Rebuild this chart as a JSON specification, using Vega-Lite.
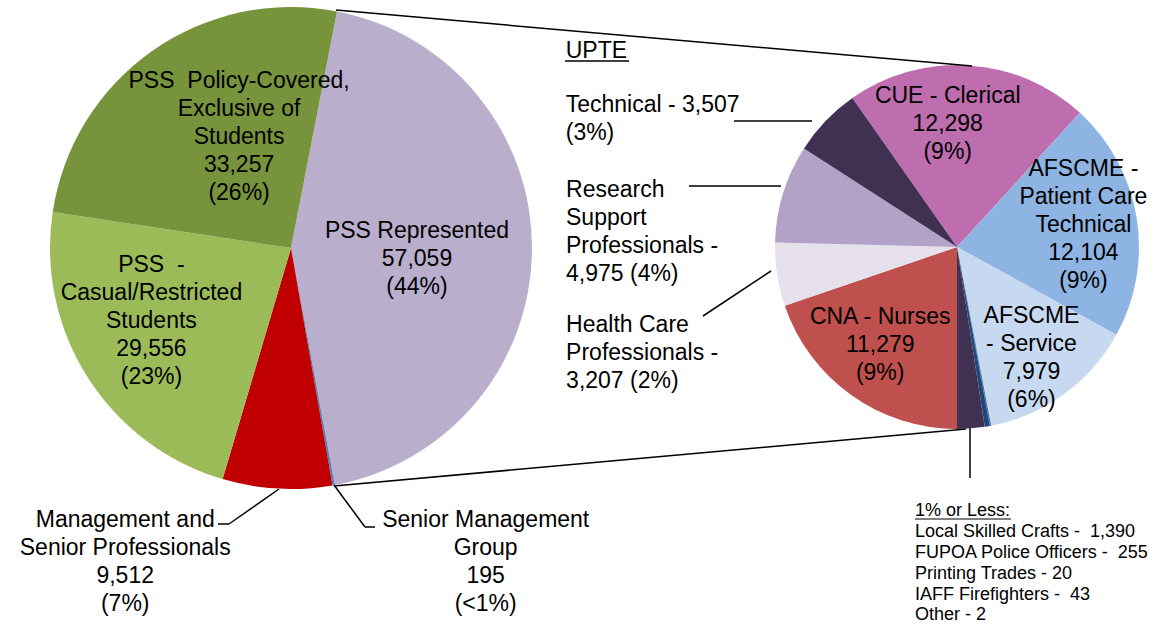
{
  "$schema": "https://vega.github.io/schema/vega-lite/v6.json",
  "width": 1160,
  "height": 625,
  "padding": 0,
  "autosize": {"type": "none"},
  "background": "white",
  "config": {"view": {"stroke": null}, "text": {"font": "Liberation Sans", "color": "black", "baseline": "alphabetic"}},
  "datasets": {
    "main": [
      {"pie": "Main", "name": "PSS Represented", "value": 57059, "ord": 1, "label": "PSS Represented\n57,059\n(44%)"},
      {"pie": "Main", "name": "Senior Management Group", "value": 195, "ord": 2, "label": "Senior Management\nGroup\n195\n(<1%)"},
      {"pie": "Main", "name": "Management and Senior Professionals", "value": 9512, "ord": 3, "label": "Management and\nSenior Professionals\n9,512\n(7%)"},
      {"pie": "Main", "name": "PSS - Casual/Restricted Students", "value": 29556, "ord": 4, "label": "PSS \u00a0-\nCasual/Restricted\nStudents\n29,556\n(23%)"},
      {"pie": "Main", "name": "PSS Policy-Covered, Exclusive of Students", "value": 33257, "ord": 5, "label": "PSS \u00a0Policy-Covered,\nExclusive of\nStudents\n33,257\n(26%)"}
    ],
    "detail": [
      {"pie": "Detail", "name": "CUE - Clerical", "value": 12298, "ord": 1, "label": "CUE - Clerical\n12,298\n(9%)"},
      {"pie": "Detail", "name": "AFSCME - Patient Care Technical", "value": 12104, "ord": 2, "label": "AFSCME -\nPatient Care\nTechnical\n12,104\n(9%)"},
      {"pie": "Detail", "name": "AFSCME - Service", "value": 7979, "ord": 3, "label": "AFSCME\n- Service\n7,979\n(6%)"},
      {"pie": "Detail", "name": "Other", "value": 2, "ord": 4, "label": ""},
      {"pie": "Detail", "name": "IAFF Firefighters", "value": 43, "ord": 5, "label": ""},
      {"pie": "Detail", "name": "Printing Trades", "value": 20, "ord": 6, "label": ""},
      {"pie": "Detail", "name": "FUPOA Police Officers", "value": 255, "ord": 7, "label": ""},
      {"pie": "Detail", "name": "Local Skilled Crafts", "value": 1390, "ord": 8, "label": "1% or Less:\nLocal Skilled Crafts - \u00a01,390\nFUPOA Police Officers - \u00a0255\nPrinting Trades - 20\nIAFF Firefighters - \u00a043\nOther - 2"},
      {"pie": "Detail", "name": "CNA - Nurses", "value": 11279, "ord": 9, "label": "CNA - Nurses\n11,279\n(9%)"},
      {"pie": "Detail", "name": "Health Care Professionals", "value": 3207, "ord": 10, "label": "Health Care\n\u00a0Professionals -\n3,207 (2%)"},
      {"pie": "Detail", "name": "Research Support Professionals", "value": 4975, "ord": 11, "label": "Research\nSupport\nProfessionals -\n4,975 (4%)"},
      {"pie": "Detail", "name": "Technical", "value": 3507, "ord": 12, "label": "Technical - 3,507\n(3%)"}
    ]
  },
  "layer": [
    {
      "data": {"name": "main"},
      "mark": {"type": "arc", "outerRadius": 241},
      "encoding": {
        "x": {"field": "pie", "type": "nominal", "scale": {"type": "point", "domain": ["Main", "Detail"], "range": [291, 957], "padding": 0}, "axis": null},
        "y": {"field": "pie", "type": "nominal", "scale": {"type": "point", "domain": ["Main", "Detail"], "range": [248, 247], "padding": 0}, "axis": null},
        "theta": {"field": "value", "type": "quantitative", "stack": true, "scale": {"range": [0.19199, 6.47518]}},
        "order": {"field": "ord", "type": "quantitative"},
        "color": {"field": "name", "type": "nominal", "legend": null, "scale": {
          "domain": ["PSS Represented", "Senior Management Group", "Management and Senior Professionals", "PSS - Casual/Restricted Students", "PSS Policy-Covered, Exclusive of Students"],
          "range": ["#B9AFCC", "#4F81BD", "#C00000", "#9BBB59", "#77933C"]}}
      }
    },
    {
      "data": {"name": "detail"},
      "mark": {"type": "arc", "outerRadius": 182},
      "encoding": {
        "x": {"field": "pie", "type": "nominal", "scale": {"type": "point", "domain": ["Main", "Detail"], "range": [291, 957], "padding": 0}, "axis": null},
        "y": {"field": "pie", "type": "nominal", "scale": {"type": "point", "domain": ["Main", "Detail"], "range": [248, 247], "padding": 0}, "axis": null},
        "theta": {"field": "value", "type": "quantitative", "stack": true, "scale": {"range": [5.67058, 11.95377]}},
        "order": {"field": "ord", "type": "quantitative"},
        "color": {"field": "name", "type": "nominal", "legend": null, "scale": {
          "domain": ["CUE - Clerical", "AFSCME - Patient Care Technical", "AFSCME - Service", "Other", "IAFF Firefighters", "Printing Trades", "FUPOA Police Officers", "Local Skilled Crafts", "CNA - Nurses", "Health Care Professionals", "Research Support Professionals", "Technical"],
          "range": ["#BE6DAE", "#8DB4E2", "#C6D9F1", "#2B5A8C", "#2B5A8C", "#2B5A8C", "#1F497D", "#403152", "#C0504D", "#E6E0EC", "#B2A2C7", "#403152"]}}
      }
    },
    {
      "data": {"name": "main"},
      "mark": {"type": "text", "radius": 126, "dx": 0, "dy": -11, "align": "center", "baseline": "alphabetic", "fontSize": 23, "lineHeight": 28, "lineBreak": "\n"},
      "encoding": {
        "x": {"field": "pie", "type": "nominal", "scale": {"type": "point", "domain": ["Main", "Detail"], "range": [291, 957], "padding": 0}, "axis": null},
        "y": {"field": "pie", "type": "nominal", "scale": {"type": "point", "domain": ["Main", "Detail"], "range": [248, 247], "padding": 0}, "axis": null},
        "theta": {"field": "value", "type": "quantitative", "stack": true, "scale": {"range": [0.19199, 6.47518]}},
        "order": {"field": "ord", "type": "quantitative"},
        "text": {"condition": {"test": "datum.name === 'PSS Represented'", "field": "label", "type": "nominal"}, "value": ""}
      }
    },
    {
      "data": {"name": "main"},
      "mark": {"type": "text", "radius": 130, "dx": 23, "dy": -54, "align": "center", "baseline": "alphabetic", "fontSize": 23, "lineHeight": 28, "lineBreak": "\n"},
      "encoding": {
        "x": {"field": "pie", "type": "nominal", "scale": {"type": "point", "domain": ["Main", "Detail"], "range": [291, 957], "padding": 0}, "axis": null},
        "y": {"field": "pie", "type": "nominal", "scale": {"type": "point", "domain": ["Main", "Detail"], "range": [248, 247], "padding": 0}, "axis": null},
        "theta": {"field": "value", "type": "quantitative", "stack": true, "scale": {"range": [0.19199, 6.47518]}},
        "order": {"field": "ord", "type": "quantitative"},
        "text": {"condition": {"test": "datum.name === 'PSS Policy-Covered, Exclusive of Students'", "field": "label", "type": "nominal"}, "value": ""}
      }
    },
    {
      "data": {"name": "main"},
      "mark": {"type": "text", "radius": 150, "dx": -13, "dy": -56, "align": "center", "baseline": "alphabetic", "fontSize": 23, "lineHeight": 28, "lineBreak": "\n"},
      "encoding": {
        "x": {"field": "pie", "type": "nominal", "scale": {"type": "point", "domain": ["Main", "Detail"], "range": [291, 957], "padding": 0}, "axis": null},
        "y": {"field": "pie", "type": "nominal", "scale": {"type": "point", "domain": ["Main", "Detail"], "range": [248, 247], "padding": 0}, "axis": null},
        "theta": {"field": "value", "type": "quantitative", "stack": true, "scale": {"range": [0.19199, 6.47518]}},
        "order": {"field": "ord", "type": "quantitative"},
        "text": {"condition": {"test": "datum.name === 'PSS - Casual/Restricted Students'", "field": "label", "type": "nominal"}, "value": ""}
      }
    },
    {
      "data": {"name": "main"},
      "mark": {"type": "text", "radius": 241, "dx": -152, "dy": 38, "align": "center", "baseline": "alphabetic", "fontSize": 23, "lineHeight": 28, "lineBreak": "\n"},
      "encoding": {
        "x": {"field": "pie", "type": "nominal", "scale": {"type": "point", "domain": ["Main", "Detail"], "range": [291, 957], "padding": 0}, "axis": null},
        "y": {"field": "pie", "type": "nominal", "scale": {"type": "point", "domain": ["Main", "Detail"], "range": [248, 247], "padding": 0}, "axis": null},
        "theta": {"field": "value", "type": "quantitative", "stack": true, "scale": {"range": [0.19199, 6.47518]}},
        "order": {"field": "ord", "type": "quantitative"},
        "text": {"condition": {"test": "datum.name === 'Management and Senior Professionals'", "field": "label", "type": "nominal"}, "value": ""}
      }
    },
    {
      "data": {"name": "main"},
      "mark": {"type": "text", "radius": 241, "dx": 152, "dy": 42, "align": "center", "baseline": "alphabetic", "fontSize": 23, "lineHeight": 28, "lineBreak": "\n"},
      "encoding": {
        "x": {"field": "pie", "type": "nominal", "scale": {"type": "point", "domain": ["Main", "Detail"], "range": [291, 957], "padding": 0}, "axis": null},
        "y": {"field": "pie", "type": "nominal", "scale": {"type": "point", "domain": ["Main", "Detail"], "range": [248, 247], "padding": 0}, "axis": null},
        "theta": {"field": "value", "type": "quantitative", "stack": true, "scale": {"range": [0.19199, 6.47518]}},
        "order": {"field": "ord", "type": "quantitative"},
        "text": {"condition": {"test": "datum.name === 'Senior Management Group'", "field": "label", "type": "nominal"}, "value": ""}
      }
    },
    {
      "data": {"name": "detail"},
      "mark": {"type": "text", "radius": 120, "dx": -17, "dy": -24, "align": "center", "baseline": "alphabetic", "fontSize": 23, "lineHeight": 28, "lineBreak": "\n"},
      "encoding": {
        "x": {"field": "pie", "type": "nominal", "scale": {"type": "point", "domain": ["Main", "Detail"], "range": [291, 957], "padding": 0}, "axis": null},
        "y": {"field": "pie", "type": "nominal", "scale": {"type": "point", "domain": ["Main", "Detail"], "range": [248, 247], "padding": 0}, "axis": null},
        "theta": {"field": "value", "type": "quantitative", "stack": true, "scale": {"range": [5.67058, 11.95377]}},
        "order": {"field": "ord", "type": "quantitative"},
        "text": {"condition": {"test": "datum.name === 'CUE - Clerical'", "field": "label", "type": "nominal"}, "value": ""}
      }
    },
    {
      "data": {"name": "detail"},
      "mark": {"type": "text", "radius": 120, "dx": 8, "dy": -52, "align": "center", "baseline": "alphabetic", "fontSize": 23, "lineHeight": 28, "lineBreak": "\n"},
      "encoding": {
        "x": {"field": "pie", "type": "nominal", "scale": {"type": "point", "domain": ["Main", "Detail"], "range": [291, 957], "padding": 0}, "axis": null},
        "y": {"field": "pie", "type": "nominal", "scale": {"type": "point", "domain": ["Main", "Detail"], "range": [248, 247], "padding": 0}, "axis": null},
        "theta": {"field": "value", "type": "quantitative", "stack": true, "scale": {"range": [5.67058, 11.95377]}},
        "order": {"field": "ord", "type": "quantitative"},
        "text": {"condition": {"test": "datum.name === 'AFSCME - Patient Care Technical'", "field": "label", "type": "nominal"}, "value": ""}
      }
    },
    {
      "data": {"name": "detail"},
      "mark": {"type": "text", "radius": 120, "dx": 4, "dy": -21, "align": "center", "baseline": "alphabetic", "fontSize": 23, "lineHeight": 28, "lineBreak": "\n"},
      "encoding": {
        "x": {"field": "pie", "type": "nominal", "scale": {"type": "point", "domain": ["Main", "Detail"], "range": [291, 957], "padding": 0}, "axis": null},
        "y": {"field": "pie", "type": "nominal", "scale": {"type": "point", "domain": ["Main", "Detail"], "range": [248, 247], "padding": 0}, "axis": null},
        "theta": {"field": "value", "type": "quantitative", "stack": true, "scale": {"range": [5.67058, 11.95377]}},
        "order": {"field": "ord", "type": "quantitative"},
        "text": {"condition": {"test": "datum.name === 'AFSCME - Service'", "field": "label", "type": "nominal"}, "value": ""}
      }
    },
    {
      "data": {"name": "detail"},
      "mark": {"type": "text", "radius": 120, "dx": -7, "dy": -21, "align": "center", "baseline": "alphabetic", "fontSize": 23, "lineHeight": 28, "lineBreak": "\n"},
      "encoding": {
        "x": {"field": "pie", "type": "nominal", "scale": {"type": "point", "domain": ["Main", "Detail"], "range": [291, 957], "padding": 0}, "axis": null},
        "y": {"field": "pie", "type": "nominal", "scale": {"type": "point", "domain": ["Main", "Detail"], "range": [248, 247], "padding": 0}, "axis": null},
        "theta": {"field": "value", "type": "quantitative", "stack": true, "scale": {"range": [5.67058, 11.95377]}},
        "order": {"field": "ord", "type": "quantitative"},
        "text": {"condition": {"test": "datum.name === 'CNA - Nurses'", "field": "label", "type": "nominal"}, "value": ""}
      }
    },
    {
      "data": {"name": "detail"},
      "mark": {"type": "text", "radius": 182, "dx": -260, "dy": -63, "align": "left", "baseline": "alphabetic", "fontSize": 23, "lineHeight": 28, "lineBreak": "\n"},
      "encoding": {
        "x": {"field": "pie", "type": "nominal", "scale": {"type": "point", "domain": ["Main", "Detail"], "range": [291, 957], "padding": 0}, "axis": null},
        "y": {"field": "pie", "type": "nominal", "scale": {"type": "point", "domain": ["Main", "Detail"], "range": [248, 247], "padding": 0}, "axis": null},
        "theta": {"field": "value", "type": "quantitative", "stack": true, "scale": {"range": [5.67058, 11.95377]}},
        "order": {"field": "ord", "type": "quantitative"},
        "text": {"condition": {"test": "datum.name === 'Technical'", "value": "UPTE"}, "value": ""}
      }
    },
    {
      "data": {"name": "detail"},
      "mark": {"type": "text", "radius": 182, "dx": -260, "dy": -9, "align": "left", "baseline": "alphabetic", "fontSize": 23, "lineHeight": 28, "lineBreak": "\n"},
      "encoding": {
        "x": {"field": "pie", "type": "nominal", "scale": {"type": "point", "domain": ["Main", "Detail"], "range": [291, 957], "padding": 0}, "axis": null},
        "y": {"field": "pie", "type": "nominal", "scale": {"type": "point", "domain": ["Main", "Detail"], "range": [248, 247], "padding": 0}, "axis": null},
        "theta": {"field": "value", "type": "quantitative", "stack": true, "scale": {"range": [5.67058, 11.95377]}},
        "order": {"field": "ord", "type": "quantitative"},
        "text": {"condition": {"test": "datum.name === 'Technical'", "field": "label", "type": "nominal"}, "value": ""}
      }
    },
    {
      "data": {"name": "detail"},
      "mark": {"type": "text", "radius": 182, "dx": -217, "dy": 3, "align": "left", "baseline": "alphabetic", "fontSize": 23, "lineHeight": 28, "lineBreak": "\n"},
      "encoding": {
        "x": {"field": "pie", "type": "nominal", "scale": {"type": "point", "domain": ["Main", "Detail"], "range": [291, 957], "padding": 0}, "axis": null},
        "y": {"field": "pie", "type": "nominal", "scale": {"type": "point", "domain": ["Main", "Detail"], "range": [248, 247], "padding": 0}, "axis": null},
        "theta": {"field": "value", "type": "quantitative", "stack": true, "scale": {"range": [5.67058, 11.95377]}},
        "order": {"field": "ord", "type": "quantitative"},
        "text": {"condition": {"test": "datum.name === 'Research Support Professionals'", "field": "label", "type": "nominal"}, "value": ""}
      }
    },
    {
      "data": {"name": "detail"},
      "mark": {"type": "text", "radius": 182, "dx": -211, "dy": 57, "align": "left", "baseline": "alphabetic", "fontSize": 23, "lineHeight": 28, "lineBreak": "\n"},
      "encoding": {
        "x": {"field": "pie", "type": "nominal", "scale": {"type": "point", "domain": ["Main", "Detail"], "range": [291, 957], "padding": 0}, "axis": null},
        "y": {"field": "pie", "type": "nominal", "scale": {"type": "point", "domain": ["Main", "Detail"], "range": [248, 247], "padding": 0}, "axis": null},
        "theta": {"field": "value", "type": "quantitative", "stack": true, "scale": {"range": [5.67058, 11.95377]}},
        "order": {"field": "ord", "type": "quantitative"},
        "text": {"condition": {"test": "datum.name === 'Health Care Professionals'", "field": "label", "type": "nominal"}, "value": ""}
      }
    },
    {
      "data": {"name": "detail"},
      "mark": {"type": "text", "radius": 182, "dx": -56, "dy": 88, "align": "left", "baseline": "alphabetic", "fontSize": 18, "lineHeight": 20.8, "lineBreak": "\n"},
      "encoding": {
        "x": {"field": "pie", "type": "nominal", "scale": {"type": "point", "domain": ["Main", "Detail"], "range": [291, 957], "padding": 0}, "axis": null},
        "y": {"field": "pie", "type": "nominal", "scale": {"type": "point", "domain": ["Main", "Detail"], "range": [248, 247], "padding": 0}, "axis": null},
        "theta": {"field": "value", "type": "quantitative", "stack": true, "scale": {"range": [5.67058, 11.95377]}},
        "order": {"field": "ord", "type": "quantitative"},
        "text": {"condition": {"test": "datum.name === 'Local Skilled Crafts'", "field": "label", "type": "nominal"}, "value": ""}
      }
    },
    {
      "data": {"values": [{}]},
      "mark": {"type": "rule", "color": "black", "strokeWidth": 1.5, "xOffset": 45, "yOffset": -238, "x2Offset": 15, "y2Offset": -181},
      "encoding": {
        "x": {"datum": "Main", "type": "nominal", "scale": {"type": "point", "domain": ["Main", "Detail"], "range": [291, 957], "padding": 0}, "axis": null},
        "y": {"datum": "Main", "type": "nominal", "scale": {"type": "point", "domain": ["Main", "Detail"], "range": [248, 247], "padding": 0}, "axis": null},
        "x2": {"datum": "Detail"},
        "y2": {"datum": "Detail"}
      }
    },
    {
      "data": {"values": [{}]},
      "mark": {"type": "rule", "color": "black", "strokeWidth": 1.5, "xOffset": 43, "yOffset": 238, "x2Offset": 9, "y2Offset": 182},
      "encoding": {
        "x": {"datum": "Main", "type": "nominal", "scale": {"type": "point", "domain": ["Main", "Detail"], "range": [291, 957], "padding": 0}, "axis": null},
        "y": {"datum": "Main", "type": "nominal", "scale": {"type": "point", "domain": ["Main", "Detail"], "range": [248, 247], "padding": 0}, "axis": null},
        "x2": {"datum": "Detail"},
        "y2": {"datum": "Detail"}
      }
    },
    {
      "data": {"values": [{}]},
      "mark": {"type": "rule", "color": "black", "strokeWidth": 1.5, "xOffset": -12, "yOffset": 241, "x2Offset": -62, "y2Offset": 276},
      "encoding": {
        "x": {"datum": "Main", "type": "nominal", "scale": {"type": "point", "domain": ["Main", "Detail"], "range": [291, 957], "padding": 0}, "axis": null},
        "y": {"datum": "Main", "type": "nominal", "scale": {"type": "point", "domain": ["Main", "Detail"], "range": [248, 247], "padding": 0}, "axis": null},
        "x2": {"datum": "Main"},
        "y2": {"datum": "Main"}
      }
    },
    {
      "data": {"values": [{}]},
      "mark": {"type": "rule", "color": "black", "strokeWidth": 1.5, "xOffset": -62, "yOffset": 276, "x2Offset": -73, "y2Offset": 276},
      "encoding": {
        "x": {"datum": "Main", "type": "nominal", "scale": {"type": "point", "domain": ["Main", "Detail"], "range": [291, 957], "padding": 0}, "axis": null},
        "y": {"datum": "Main", "type": "nominal", "scale": {"type": "point", "domain": ["Main", "Detail"], "range": [248, 247], "padding": 0}, "axis": null},
        "x2": {"datum": "Main"},
        "y2": {"datum": "Main"}
      }
    },
    {
      "data": {"values": [{}]},
      "mark": {"type": "rule", "color": "black", "strokeWidth": 1.5, "xOffset": 43, "yOffset": 237, "x2Offset": 74, "y2Offset": 279},
      "encoding": {
        "x": {"datum": "Main", "type": "nominal", "scale": {"type": "point", "domain": ["Main", "Detail"], "range": [291, 957], "padding": 0}, "axis": null},
        "y": {"datum": "Main", "type": "nominal", "scale": {"type": "point", "domain": ["Main", "Detail"], "range": [248, 247], "padding": 0}, "axis": null},
        "x2": {"datum": "Main"},
        "y2": {"datum": "Main"}
      }
    },
    {
      "data": {"values": [{}]},
      "mark": {"type": "rule", "color": "black", "strokeWidth": 1.5, "xOffset": 74, "yOffset": 279, "x2Offset": 84, "y2Offset": 279},
      "encoding": {
        "x": {"datum": "Main", "type": "nominal", "scale": {"type": "point", "domain": ["Main", "Detail"], "range": [291, 957], "padding": 0}, "axis": null},
        "y": {"datum": "Main", "type": "nominal", "scale": {"type": "point", "domain": ["Main", "Detail"], "range": [248, 247], "padding": 0}, "axis": null},
        "x2": {"datum": "Main"},
        "y2": {"datum": "Main"}
      }
    },
    {
      "data": {"values": [{}]},
      "mark": {"type": "rule", "color": "black", "strokeWidth": 1.5, "xOffset": -223, "yOffset": -126, "x2Offset": -145, "y2Offset": -126},
      "encoding": {
        "x": {"datum": "Detail", "type": "nominal", "scale": {"type": "point", "domain": ["Main", "Detail"], "range": [291, 957], "padding": 0}, "axis": null},
        "y": {"datum": "Detail", "type": "nominal", "scale": {"type": "point", "domain": ["Main", "Detail"], "range": [248, 247], "padding": 0}, "axis": null},
        "x2": {"datum": "Detail"},
        "y2": {"datum": "Detail"}
      }
    },
    {
      "data": {"values": [{}]},
      "mark": {"type": "rule", "color": "black", "strokeWidth": 1.5, "xOffset": -268, "yOffset": -61, "x2Offset": -176, "y2Offset": -61},
      "encoding": {
        "x": {"datum": "Detail", "type": "nominal", "scale": {"type": "point", "domain": ["Main", "Detail"], "range": [291, 957], "padding": 0}, "axis": null},
        "y": {"datum": "Detail", "type": "nominal", "scale": {"type": "point", "domain": ["Main", "Detail"], "range": [248, 247], "padding": 0}, "axis": null},
        "x2": {"datum": "Detail"},
        "y2": {"datum": "Detail"}
      }
    },
    {
      "data": {"values": [{}]},
      "mark": {"type": "rule", "color": "black", "strokeWidth": 1.5, "xOffset": -254, "yOffset": 69, "x2Offset": -186, "y2Offset": 24},
      "encoding": {
        "x": {"datum": "Detail", "type": "nominal", "scale": {"type": "point", "domain": ["Main", "Detail"], "range": [291, 957], "padding": 0}, "axis": null},
        "y": {"datum": "Detail", "type": "nominal", "scale": {"type": "point", "domain": ["Main", "Detail"], "range": [248, 247], "padding": 0}, "axis": null},
        "x2": {"datum": "Detail"},
        "y2": {"datum": "Detail"}
      }
    },
    {
      "data": {"values": [{}]},
      "mark": {"type": "rule", "color": "black", "strokeWidth": 1.5, "xOffset": 13, "yOffset": 181, "x2Offset": 13, "y2Offset": 231},
      "encoding": {
        "x": {"datum": "Detail", "type": "nominal", "scale": {"type": "point", "domain": ["Main", "Detail"], "range": [291, 957], "padding": 0}, "axis": null},
        "y": {"datum": "Detail", "type": "nominal", "scale": {"type": "point", "domain": ["Main", "Detail"], "range": [248, 247], "padding": 0}, "axis": null},
        "x2": {"datum": "Detail"},
        "y2": {"datum": "Detail"}
      }
    },
    {
      "data": {"values": [{}]},
      "mark": {"type": "rule", "color": "black", "strokeWidth": 1.5, "xOffset": -392, "yOffset": -186, "x2Offset": -328, "y2Offset": -186},
      "encoding": {
        "x": {"datum": "Detail", "type": "nominal", "scale": {"type": "point", "domain": ["Main", "Detail"], "range": [291, 957], "padding": 0}, "axis": null},
        "y": {"datum": "Detail", "type": "nominal", "scale": {"type": "point", "domain": ["Main", "Detail"], "range": [248, 247], "padding": 0}, "axis": null},
        "x2": {"datum": "Detail"},
        "y2": {"datum": "Detail"}
      }
    },
    {
      "data": {"values": [{}]},
      "mark": {"type": "rule", "color": "black", "strokeWidth": 1.2, "xOffset": -42, "yOffset": 272, "x2Offset": 54, "y2Offset": 272},
      "encoding": {
        "x": {"datum": "Detail", "type": "nominal", "scale": {"type": "point", "domain": ["Main", "Detail"], "range": [291, 957], "padding": 0}, "axis": null},
        "y": {"datum": "Detail", "type": "nominal", "scale": {"type": "point", "domain": ["Main", "Detail"], "range": [248, 247], "padding": 0}, "axis": null},
        "x2": {"datum": "Detail"},
        "y2": {"datum": "Detail"}
      }
    }
  ],
  "resolve": {"scale": {"theta": "independent", "color": "independent"}}
}
